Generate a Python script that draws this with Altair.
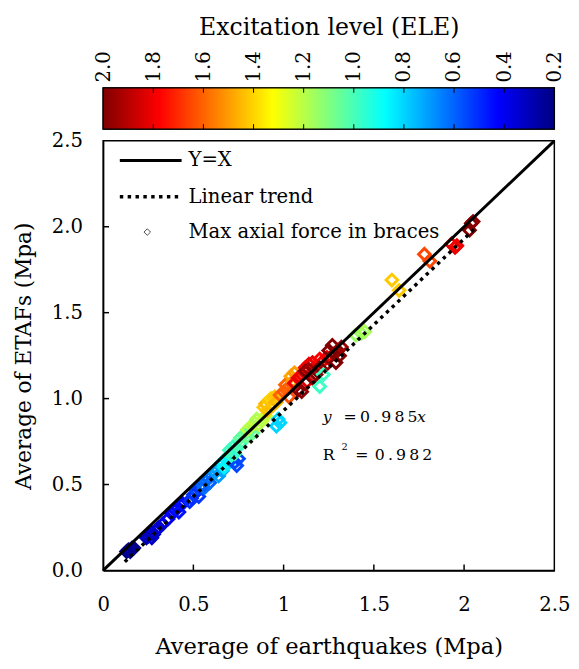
import altair as alt
import pandas as pd

FONT = "DejaVu Serif"

# ---------------- data ----------------
x_vals = [
    0.13, 0.14, 0.15, 0.16, 0.15, 0.17,
    0.24, 0.25, 0.26, 0.27, 0.28, 0.29, 0.30, 0.31, 0.33, 0.27,
    0.36, 0.38, 0.40, 0.41, 0.43, 0.42, 0.44,
    0.48, 0.49, 0.50, 0.52, 0.53, 0.51, 0.54,
    0.55, 0.57, 0.58, 0.60, 0.59, 0.56,
    0.62, 0.63, 0.64, 0.65, 0.66,
    0.66, 0.68, 0.69, 0.70, 0.67,
    0.73, 0.75, 0.74,
    0.70, 0.72, 0.73, 0.74, 0.76, 0.71,
    0.76, 0.78, 0.80, 0.81, 0.83,
    0.80, 0.82, 0.84, 0.86, 0.85, 0.88, 0.90,
    0.89, 0.90, 0.92, 0.93, 0.94, 0.91, 0.95, 0.96,
    0.96, 0.98, 0.97,
    0.98, 1.00, 1.02, 1.03, 1.05, 1.01,
    1.04, 1.06, 1.05,
    1.06, 1.08, 1.10, 1.12, 1.14, 1.16, 1.18, 1.20, 1.22, 1.24, 1.13,
    1.08, 1.10, 1.12, 1.14, 1.16, 1.18, 1.20, 1.23, 1.25, 1.27, 1.28, 1.29, 1.30, 1.31, 1.32,
    1.20, 1.22,
    1.40, 1.43, 1.45,
    1.60, 1.64,
    1.78, 1.81,
    1.93, 1.95, 1.96,
    2.04, 2.05, 2.03,
]
y_vals = [
    0.11, 0.12, 0.12, 0.13, 0.11, 0.13,
    0.19, 0.20, 0.21, 0.22, 0.21, 0.23, 0.24, 0.25, 0.27, 0.19,
    0.30, 0.33, 0.35, 0.37, 0.38, 0.34, 0.39,
    0.40, 0.42, 0.44, 0.46, 0.43, 0.47, 0.48,
    0.50, 0.52, 0.54, 0.55, 0.51, 0.48,
    0.57, 0.59, 0.55, 0.61, 0.58,
    0.63, 0.65, 0.62, 0.67, 0.60,
    0.63, 0.65, 0.61,
    0.70, 0.72, 0.68, 0.71, 0.74, 0.67,
    0.77, 0.79, 0.78, 0.81, 0.80,
    0.82, 0.84, 0.86, 0.85, 0.88, 0.87, 0.90,
    0.95, 0.97, 0.99, 1.00, 0.96, 0.93, 1.01, 0.98,
    0.84, 0.86, 0.88,
    1.02, 1.04, 1.06, 1.01, 1.08, 1.08,
    1.13, 1.15, 1.10,
    1.09, 1.12, 1.14, 1.18, 1.20, 1.21, 1.19, 1.23, 1.22, 1.24, 1.10,
    1.05, 1.04, 1.16, 1.17, 1.12, 1.14, 1.18, 1.19, 1.28, 1.31, 1.26, 1.21, 1.28, 1.25, 1.30,
    1.07, 1.14,
    1.37, 1.38, 1.39,
    1.69, 1.63,
    1.84, 1.80,
    1.90, 1.88, 1.89,
    2.02, 2.03, 1.98,
]
ele_vals = [
    0.20, 0.22, 0.20, 0.25, 0.25, 0.22,
    0.30, 0.32, 0.30, 0.33, 0.30, 0.35, 0.33, 0.35, 0.35, 0.32,
    0.40, 0.42, 0.40, 0.43, 0.42, 0.45, 0.44,
    0.50, 0.50, 0.52, 0.50, 0.52, 0.55, 0.53,
    0.60, 0.62, 0.60, 0.63, 0.60, 0.62,
    0.70, 0.72, 0.70, 0.75, 0.72,
    0.85, 0.85, 0.88, 0.86, 0.85,
    0.55, 0.55, 0.55,
    0.98, 0.98, 1.00, 0.98, 1.00, 0.97,
    1.05, 1.05, 1.07, 1.05, 1.06,
    1.20, 1.20, 1.22, 1.20, 1.18, 1.20, 1.22,
    1.42, 1.45, 1.42, 1.40, 1.45, 1.43, 1.42, 1.45,
    0.80, 0.80, 0.80,
    1.60, 1.62, 1.60, 1.63, 1.62, 1.60,
    1.48, 1.50, 1.50,
    1.80, 1.82, 1.80, 1.78, 1.80, 1.82, 1.80, 1.78, 1.80, 1.80, 1.82,
    2.00, 1.97, 2.00, 1.95, 2.00, 1.98, 2.00, 1.97, 2.00, 2.00, 1.98, 2.00, 1.97, 2.00, 1.95,
    0.98, 0.98,
    1.15, 1.15, 1.17,
    1.42, 1.42,
    1.65, 1.65,
    1.80, 1.82, 1.80,
    2.00, 1.97, 2.00,
]

yx_x = [0.0, 2.5]
yx_y = [0.0, 2.5]
trend_x = [0.12, 2.06]
trend_y = [0.05, 1.99]

x_ticks = [0, 0.5, 1, 1.5, 2, 2.5]
y_ticks = [0.0, 0.5, 1.0, 1.5, 2.0, 2.5]
ele_ticks = [2.0, 1.8, 1.6, 1.4, 1.2, 1.0, 0.8, 0.6, 0.4, 0.2]

legend_labels = ["Y=X", "Linear trend", "Max axial force in braces"]

jet_domain = [0.2, 0.425, 0.875, 1.325, 1.775, 2.0]
jet_colors = ["#000080", "#0000ff", "#00ffff", "#ffff00", "#ff0000", "#800000"]

# ---------------- main plot ----------------
W, H = 460, 438
df = pd.DataFrame({"x": x_vals, "y": y_vals, "ele": ele_vals})

xs = alt.Scale(domain=[0, 2.5], nice=False, zero=False)
ys = alt.Scale(domain=[0, 2.5], nice=False, zero=False)
cscale = alt.Scale(domain=jet_domain, range=jet_colors, type="linear", interpolate="rgb")

points = alt.Chart(df).mark_point(
    shape="diamond", filled=False, strokeWidth=3, size=140, opacity=1
).encode(
    x=alt.X("x:Q", scale=xs, axis=alt.Axis(
        values=x_ticks, format="~g", title="Average of earthquakes (Mpa)", labelFlush=False,
        tickSize=0, labelPadding=25, titlePadding=22, titleFontSize=23)),
    y=alt.Y("y:Q", scale=ys, axis=alt.Axis(
        values=y_ticks, format=".1f", title="Average of ETAFs (Mpa)", labelFlush=False,
        tickSize=0, labelPadding=21, titlePadding=16)),
    color=alt.Color("ele:Q", scale=cscale, legend=None),
)

yx = alt.Chart(pd.DataFrame({"x": yx_x, "y": yx_y})).mark_line(
    color="black", strokeWidth=3
).encode(x=alt.X("x:Q", scale=xs), y=alt.Y("y:Q", scale=ys))

trend = alt.Chart(pd.DataFrame({"x": trend_x, "y": trend_y})).mark_line(
    color="black", strokeWidth=3.5, strokeDash=[3.5, 4.5]
).encode(x=alt.X("x:Q", scale=xs), y=alt.Y("y:Q", scale=ys))

xt = alt.Chart(pd.DataFrame({"t": x_ticks[1:-1]})).mark_rule(color="black", strokeWidth=1.5).encode(
    x=alt.X("t:Q", scale=xs), y=alt.value(H), y2=alt.value(H - 6))
yt = alt.Chart(pd.DataFrame({"t": y_ticks[1:-1]})).mark_rule(color="black", strokeWidth=1.5).encode(
    y=alt.Y("t:Q", scale=ys), x=alt.value(0), x2=alt.value(6))

one = pd.DataFrame({"a": [0]})
leg_solid = alt.Chart(one).mark_rule(color="black", strokeWidth=3).encode(
    x=alt.value(17), x2=alt.value(80), y=alt.value(20))
leg_dot = alt.Chart(one).mark_rule(color="black", strokeWidth=3.5, strokeDash=[3.5, 4.5]).encode(
    x=alt.value(17), x2=alt.value(80), y=alt.value(57))
leg_pt = alt.Chart(one).mark_point(shape="diamond", filled=False, color="black", size=45, strokeWidth=1).encode(
    x=alt.value(45), y=alt.value(93))
leg_texts = [
    alt.Chart(one).mark_text(align="left", baseline="middle", font=FONT, fontSize=20, color="black").encode(
        x=alt.value(87), y=alt.value(yy), text=alt.value(lbl))
    for lbl, yy in zip(legend_labels, [20, 57, 93])
]

def txt(s, x, y, size=16, style="normal", align="left"):
    return alt.Chart(one).mark_text(align=align, baseline="middle", font=FONT, fontSize=size,
                                    fontStyle=style, color="black").encode(
        x=alt.value(x), y=alt.value(y), text=alt.value(s))

ann = [
    txt("y", 224, 282, style="italic"),
    txt("=", 245, 282),
    txt("0\u2009.\u20099\u20098\u20095", 262, 282),
    txt("x", 320, 282, style="italic"),
    txt("R", 224, 320),
    txt("2", 243, 312, size=10),
    txt("=", 257, 320),
    txt("0\u2009.\u20099\u20098\u20092", 277, 320),
]

main = alt.layer(points, yx, trend, xt, yt, leg_solid, leg_dot, leg_pt, *leg_texts, *ann).properties(
    width=W, height=H)

# ---------------- colorbar ----------------
CBH = 42
cb_scale = alt.Scale(domain=[0.2, 2.0], reverse=True, nice=False, zero=False)
grad = alt.LinearGradient(
    gradient="linear", x1=0, x2=1, y1=0, y2=0,
    stops=[alt.GradientStop(color=c, offset=(2.0 - v) / 1.8) for v, c in
           sorted(zip(jet_domain, jet_colors), key=lambda p: -p[0])],
)
cb_rect = alt.Chart(pd.DataFrame({"a": [2.0], "b": [0.2]})).mark_rect(
    fill=grad, stroke="black", strokeWidth=1.2
).encode(
    x=alt.X("a:Q", scale=cb_scale, axis=alt.Axis(
        orient="top", values=ele_ticks, format=".1f", labelAngle=270, tickSize=0,
        labelFlush=False, labelPadding=6, labelFontSize=20,
        title="Excitation level (ELE)", titlePadding=12,
        titleFontSize=24, domain=False)),
    x2="b:Q",
    y=alt.value(0), y2=alt.value(CBH),
)
cb_t1 = alt.Chart(pd.DataFrame({"t": ele_ticks[1:-1]})).mark_rule(color="black", strokeWidth=1).encode(
    x=alt.X("t:Q", scale=cb_scale), y=alt.value(0), y2=alt.value(5))
cb_t2 = alt.Chart(pd.DataFrame({"t": ele_ticks[1:-1]})).mark_rule(color="black", strokeWidth=1).encode(
    x=alt.X("t:Q", scale=cb_scale), y=alt.value(CBH - 5), y2=alt.value(CBH))

cbar = alt.layer(cb_rect, cb_t1, cb_t2).properties(width=W, height=CBH)

chart = alt.vconcat(cbar, main, spacing=12, bounds="flush").properties(
    padding={"left": 4, "top": 0, "right": 0, "bottom": 0}
).configure_view(
    stroke="black", strokeWidth=1.5
).configure_axis(
    labelFont=FONT, titleFont=FONT, labelFontSize=20, titleFontSize=22,
    labelColor="black", titleColor="black", titleFontWeight="normal",
    grid=False, domainColor="black", domainWidth=1.5,
).configure_concat(spacing=12)

chart.save("out.html", embed_options={"renderer": "svg", "actions": False})
